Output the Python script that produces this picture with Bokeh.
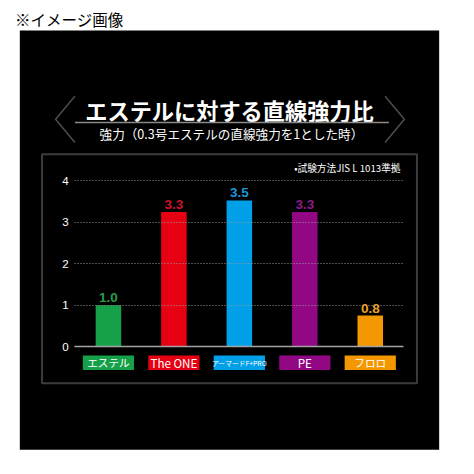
from bokeh.plotting import figure
from bokeh.models import (ColumnDataSource, Range1d, FixedTicker, LinearAxis,
                          BoxAnnotation, PolyAnnotation, Label)
from bokeh.core.properties import value
from bokeh.embed import file_html
from bokeh.resources import INLINE

# ---- data ----
categories = ["エステル", "The ONE", "アーマードF+PRO", "PE", "フロロ"]
strength = [1.0, 3.25, 3.53, 3.25, 0.75]
value_labels = ["1.0", "3.3", "3.5", "3.3", "0.8"]
y_ticks = [0, 1, 2, 3, 4]

# ---- styles ----
bar_colors = ["#17a04a", "#e60012", "#00a0e9", "#920783", "#f39800"]
label_colors = ["#2a9a4a", "#d0112b", "#1f95d6", "#8e1a8a", "#f0a020"]
cat_font_px = [11, 12, 7, 12, 11]

JPN = "Noto Sans CJK JP"
JP = value(JPN)

W = H = 458
K = W / 474.0            # layout designed on a 474 px grid


def s(v):
    return v * K


def fs(px):
    return f"{px * K:.1f}px"


xpos = list(range(len(categories)))

p = figure(width=W, height=H, output_backend="svg", toolbar_location=None,
           x_range=Range1d(-1.649, 5.348), y_range=Range1d(-2.697, 8.352),
           x_axis_location=None, y_axis_location=None,
           min_border=0, min_border_left=0, min_border_right=0,
           min_border_top=0, min_border_bottom=0)
p.background_fill_color = "white"
p.border_fill_color = "white"
p.outline_line_color = None
p.xgrid.visible = False
p.ygrid.visible = False


def canvas_box(l, r, t, b, **kw):
    return BoxAnnotation(left=s(l), right=s(r), top=s(t), bottom=s(b),
                         left_units="canvas", right_units="canvas",
                         top_units="canvas", bottom_units="canvas", **kw)


def canvas_label(x, y, text, size, **kw):
    return Label(x=s(x), y=s(y), x_units="canvas", y_units="canvas", text=text,
                 text_font=JPN, text_font_size=fs(size), **kw)


def chevron(xs, ys):
    # out and back along the same path so the closed polygon shows no third edge
    return PolyAnnotation(xs=[s(v) for v in xs + xs[-2::-1]],
                          ys=[s(v) for v in ys + ys[-2::-1]],
                          xs_units="canvas", ys_units="canvas",
                          fill_color=None, fill_alpha=0,
                          line_color="white", line_width=1.5)


# black panel
p.add_layout(canvas_box(20, 454, 31, 465, fill_color="black", fill_alpha=1,
                        line_color=None, level="underlay"))
# inner framed panel
p.add_layout(canvas_box(43, 431, 159, 396, fill_color=None, fill_alpha=0,
                        line_color="#c8c8c8", line_width=2, level="overlay"))

# caption top-left
p.add_layout(canvas_label(15, 19, "※イメージ画像", 16, text_color="black",
                          text_baseline="middle"))

# title
p.add_layout(canvas_label(237, 113, "エステルに対する直線強力比", 23,
                          text_font_style="bold", text_color="white",
                          text_align="center", text_baseline="middle"))
p.add_layout(canvas_box(77, 402, 125.5, 127, fill_color="#8a8a8a", fill_alpha=1,
                        line_color=None))
p.add_layout(canvas_label(239, 138, "強力（0.3号エステルの直線強力を1とした時）", 13,
                          text_color="white", text_align="center",
                          text_baseline="middle"))
p.add_layout(chevron([77, 57, 77], [99, 123, 147]))
p.add_layout(chevron([398, 418, 398], [99, 123, 147]))

# note
p.add_layout(canvas_label(414, 173, "•試験方法JIS L 1013準拠", 10,
                          text_color="white", text_align="right",
                          text_baseline="middle"))

src = ColumnDataSource(dict(x=xpos, cat=categories, val=strength, lab=value_labels,
                            color=bar_colors, lcolor=label_colors,
                            fsize=[fs(v) for v in cat_font_px],
                            ypos=[-0.39] * len(categories)))

# y axis inside the panel; long dotted ticks act as grid lines
yax = LinearAxis(fixed_location=-0.517, ticker=FixedTicker(ticks=y_ticks))
yax.axis_line_color = None
yax.major_tick_in = round(s(340))
yax.major_tick_out = 0
yax.major_tick_line_color = "#9a9a9a"
yax.major_tick_line_dash = "1 2"
yax.major_tick_line_width = 1
yax.minor_tick_line_color = None
yax.major_label_standoff = 6
yax.major_label_text_color = "white"
yax.major_label_text_font = "Liberation Sans"
yax.major_label_text_font_size = fs(12)
p.add_layout(yax, "left")

# baseline axis at y = 0
xax = LinearAxis(fixed_location=0, bounds=(-0.517, 4.502), ticker=FixedTicker(ticks=[]))
xax.axis_line_color = "#a8a8a8"
xax.axis_line_width = 1.5
xax.major_tick_line_color = None
xax.minor_tick_line_color = None
xax.major_label_text_font_size = "0px"
p.add_layout(xax, "below")

p.vbar(x="x", top="val", width=0.39, color="color", line_color=None, source=src)
p.text(x="x", y="val", text="lab", text_color="lcolor", source=src,
       text_align="center", text_baseline="bottom", y_offset=-3,
       text_font=value("Liberation Sans"), text_font_size=fs(14),
       text_font_style="bold")
p.rect(x="x", y="ypos", width=s(53), height=s(15), width_units="screen",
       height_units="screen", fill_color="color", line_color=None, source=src)
p.text(x="x", y="ypos", text="cat", text_color="white", source=src,
       text_align="center", text_baseline="middle", text_font=JP,
       text_font_size="fsize")

open("out.html", "w").write(file_html(p, INLINE))
